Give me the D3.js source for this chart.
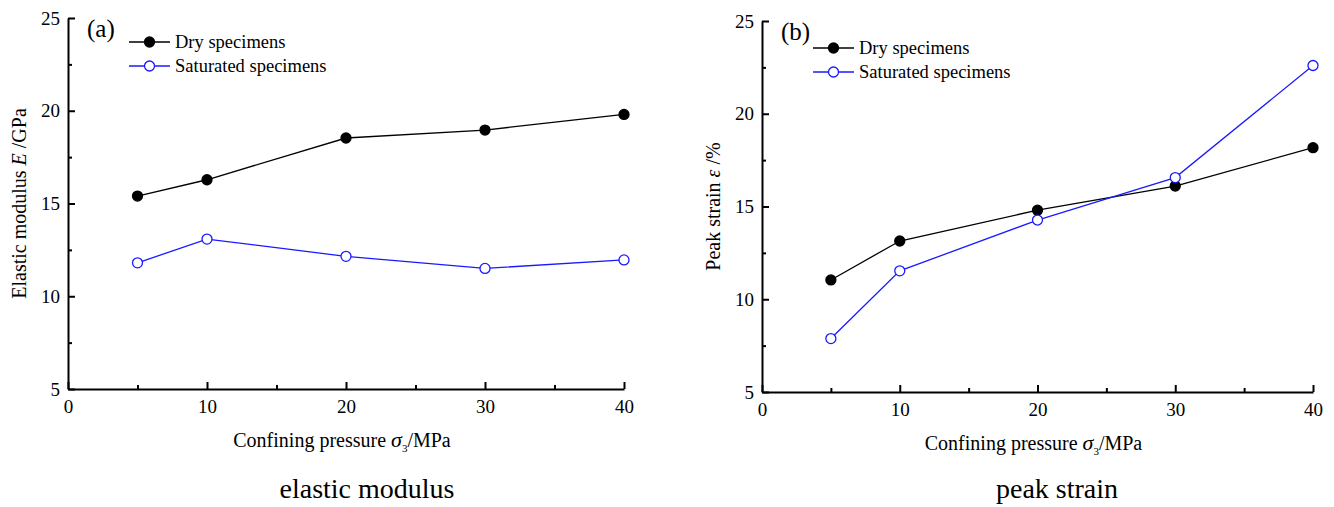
<!DOCTYPE html>
<html>
<head>
<meta charset="utf-8">
<script src="https://cdn.jsdelivr.net/npm/d3@7"></script>
<style>
  body { margin: 0; background: #fff; }
  svg text { font-family: "Liberation Serif", "Times New Roman", serif; fill: #000; }
</style>
</head>
<body>
<svg id="chart" width="1334" height="507"></svg>
<script>
// confining pressure, MPa
var pressures = [5, 10, 20, 30, 40];
var xTicks = [0, 10, 20, 30, 40];
var yTicks = [5, 10, 15, 20, 25];

// (a) elastic modulus, GPa
var modulusDry = [15.4, 16.28, 18.53, 18.96, 19.8];
var modulusSat = [11.8, 13.08, 12.15, 11.5, 11.96];

// (b) peak strain, %
var strainDry = [11.04, 13.14, 14.8, 16.1, 18.17];
var strainSat = [7.88, 11.53, 14.27, 16.56, 22.6];

var seriesNames = ["Dry specimens", "Saturated specimens"];
var seriesColors = ["#000000", "#1a1aff"];

var svg = d3.select("#chart");

function panel(opt) {
  var g = svg.append("g");
  var x = d3.scaleLinear().domain([0, 40]).range([opt.left, opt.right]);
  var y = d3.scaleLinear().domain([5, 25]).range([opt.bottom, opt.top]);

  // minor ticks (inward, no labels)
  var xMinor = [5, 15, 25, 35];
  var yMinor = [7.5, 12.5, 17.5, 22.5];

  g.append("g").attr("transform", "translate(0," + opt.bottom + ")")
    .call(d3.axisBottom(x).tickValues(xTicks).tickSize(-7).tickPadding(11).tickSizeOuter(0));
  g.append("g").attr("transform", "translate(0," + opt.bottom + ")")
    .call(d3.axisBottom(x).tickValues(xMinor).tickSize(-4).tickFormat("").tickSizeOuter(0))
    .select(".domain").remove();
  g.append("g").attr("transform", "translate(" + opt.left + ",0)")
    .call(d3.axisLeft(y).tickValues(yTicks).tickSize(-7).tickPadding(8).tickSizeOuter(0));
  g.append("g").attr("transform", "translate(" + opt.left + ",0)")
    .call(d3.axisLeft(y).tickValues(yMinor).tickSize(-4).tickFormat("").tickSizeOuter(0))
    .select(".domain").remove();

  g.selectAll("g").attr("font-family", "'Liberation Serif', serif").attr("font-size", 19);
  g.selectAll(".domain").attr("stroke", "#000").attr("stroke-width", 2);
  g.selectAll(".tick line").attr("stroke", "#000").attr("stroke-width", 2);

  // series
  var line = d3.line().x(function(d) { return x(d[0]); }).y(function(d) { return y(d[1]); });
  opt.series.forEach(function(vals, i) {
    var pts = pressures.map(function(p, j) { return [p, vals[j]]; });
    g.append("path").datum(pts).attr("d", line)
      .attr("fill", "none").attr("stroke", seriesColors[i]).attr("stroke-width", 1.3);
    g.selectAll(null).data(pts).enter().append("circle")
      .attr("cx", function(d) { return x(d[0]); })
      .attr("cy", function(d) { return y(d[1]); })
      .attr("r", 5)
      .attr("fill", i === 0 ? "#000" : "#fff")
      .attr("stroke", seriesColors[i]).attr("stroke-width", 1.3);
  });

  // legend
  seriesNames.forEach(function(name, i) {
    var ly = opt.legendY + i * 24;
    g.append("line").attr("x1", opt.legendX).attr("x2", opt.legendX + 41)
      .attr("y1", ly).attr("y2", ly).attr("stroke", seriesColors[i]).attr("stroke-width", 1.3);
    g.append("circle").attr("cx", opt.legendX + 20.5).attr("cy", ly).attr("r", 5)
      .attr("fill", i === 0 ? "#000" : "#fff").attr("stroke", seriesColors[i]).attr("stroke-width", 1.3);
    g.append("text").attr("x", opt.legendX + 46).attr("y", ly + 6)
      .attr("font-size", 18.5).text(name);
  });

  // panel letter
  g.append("text").attr("x", opt.left + 19).attr("y", opt.top + 19)
    .attr("font-size", 25).text(opt.letter);

  // y title
  var yt = g.append("text")
    .attr("transform", "translate(" + opt.yTitleX + "," + ((opt.top + opt.bottom) / 2) + ") rotate(-90)")
    .attr("text-anchor", "middle").attr("font-size", 20);
  yt.append("tspan").text(opt.yTitle[0]);
  yt.append("tspan").attr("font-style", "italic").text(opt.yTitle[1]);
  yt.append("tspan").text(opt.yTitle[2]);

  // x title
  var xt = g.append("text")
    .attr("x", (opt.left + opt.right) / 2 - 4).attr("y", opt.bottom + 58)
    .attr("text-anchor", "middle").attr("font-size", 20);
  xt.append("tspan").text("Confining pressure ");
  xt.append("tspan").attr("font-style", "italic").attr("font-size", 22).text("σ");
  xt.append("tspan").attr("font-size", 11).attr("dy", 5).text("3");
  xt.append("tspan").attr("dy", -5).text("/MPa");

  // caption
  g.append("text").attr("x", opt.captionX).attr("y", 498)
    .attr("text-anchor", "middle").attr("font-size", 28).text(opt.caption);
}

panel({
  left: 68, right: 624, top: 18, bottom: 389,
  series: [modulusDry, modulusSat],
  legendX: 129, legendY: 42, letter: "(a)",
  yTitleX: 26, yTitle: ["Elastic modulus ", "E", " /GPa"],
  captionX: 367, caption: "elastic modulus"
});

panel({
  left: 762, right: 1313, top: 21, bottom: 392,
  series: [strainDry, strainSat],
  legendX: 813, legendY: 48, letter: "(b)",
  yTitleX: 720, yTitle: ["Peak strain ", "ε", " /%"],
  captionX: 1057, caption: "peak strain"
});
</script>
</body>
</html>
